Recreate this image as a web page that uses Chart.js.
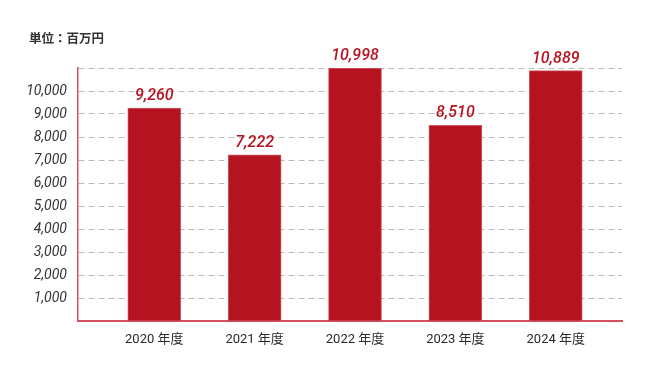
<!DOCTYPE html>
<html><head><meta charset="utf-8">
<script src="https://cdn.jsdelivr.net/npm/chart.js@4/dist/chart.umd.min.js"></script>
<style>html,body{margin:0;padding:0;background:#fff}#wrap{width:650px;height:380px;position:relative}</style>
</head><body><div id="wrap"><canvas id="c" width="650" height="380"></canvas></div>
<script>
const categories = ["2020 年度", "2021 年度", "2022 年度", "2023 年度", "2024 年度"];
const values = [9260, 7222, 10998, 8510, 10889];
const yTicks = [1000, 2000, 3000, 4000, 5000, 6000, 7000, 8000, 9000, 10000];
const unitLabel = "単位：百万円";

const RED = '#b5131f';
const FONT = 'Roboto, "Noto Sans CJK JP", sans-serif';

const labelPlugin = {
  id: 'labels',
  afterDatasetsDraw(chart) {
    const ctx = chart.ctx;
    const meta = chart.getDatasetMeta(0);
    ctx.save();
    ctx.fillStyle = RED;
    ctx.font = 'italic 500 16px ' + FONT;
    ctx.textAlign = 'center';
    ctx.textBaseline = 'bottom';
    meta.data.forEach((el, i) => {
      ctx.fillText(values[i].toLocaleString('en-US'), el.x, el.y - 4);
    });
    ctx.restore();
  },
  afterDraw(chart) {
    const ctx = chart.ctx;
    ctx.save();
    ctx.fillStyle = '#333';
    ctx.font = 'bold 12.5px ' + FONT;
    ctx.textAlign = 'left';
    ctx.textBaseline = 'middle';
    ctx.fillText(unitLabel, 29, 40);
    ctx.restore();
  }
};

new Chart(document.getElementById('c'), {
  type: 'bar',
  data: {
    datasets: [{
      data: values.map((v, i) => ({x: i, y: v})),
      backgroundColor: RED,
      borderColor: '#cf5c68',
      borderWidth: 1,
      barThickness: 53
    }]
  },
  options: {
    responsive: false,
    animation: false,
    layout: {padding: {top: 68, right: 28, bottom: 0, left: 0}},
    plugins: {legend: {display: false}, tooltip: {enabled: false}},
    scales: {
      x: {
        type: 'linear',
        offset: false,
        min: -0.76, max: 4.66,
        afterBuildTicks(s) { s.ticks = categories.map((c, i) => ({value: i})); },
        afterFit(s) { s.height = 59; },
        grid: {display: false, drawTicks: false},
        border: {color: '#d4505e', width: 2},
        ticks: {
          padding: 11,
          color: '#2a2a2a',
          font: {size: 13, family: FONT},
          callback: (v) => categories[v] ?? ''
        }
      },
      y: {
        min: 0, max: 11000,
        afterBuildTicks(s) {
          s.ticks = [0].concat(yTicks, [11000]).map(v => ({value: v}));
        },
        afterFit(s) { s.width = 78; },
        grid: {color: '#bbbbbb', lineWidth: 1, drawTicks: false},
        border: {color: '#d4505e', width: 1.5, dash: [6, 4]},
        ticks: {
          padding: 11,
          color: '#333',
          font: {size: 14, style: 'italic', family: FONT},
          callback: (v) => yTicks.includes(v) ? v.toLocaleString('en-US') : ''
        }
      }
    }
  },
  plugins: [labelPlugin]
});
</script></body></html>
